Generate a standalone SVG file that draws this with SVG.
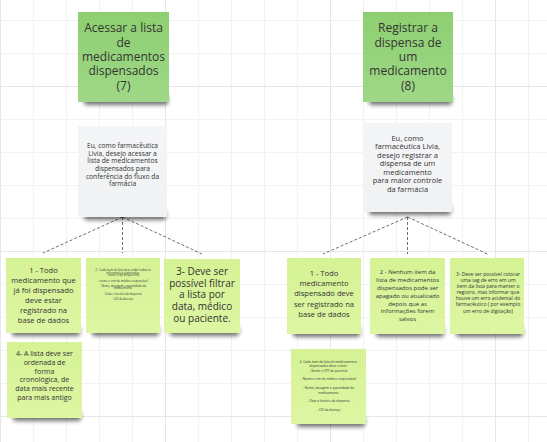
<svg xmlns="http://www.w3.org/2000/svg" width="547" height="442" viewBox="0 0 547 442">
<defs>
<linearGradient id="gTop" x1="0" y1="0" x2="0" y2="1"><stop offset="0" stop-color="#8dcf70"/><stop offset="1" stop-color="#9fd888"/></linearGradient>
<linearGradient id="gLight" x1="0" y1="0" x2="0" y2="1"><stop offset="0" stop-color="#d5f294"/><stop offset="1" stop-color="#ddf6a3"/></linearGradient>
<linearGradient id="gWhite" x1="0" y1="0" x2="0" y2="1"><stop offset="0" stop-color="#f4f5f6"/><stop offset="1" stop-color="#f1f2f3"/></linearGradient>
<filter id="blur" x="-20%" y="-50%" width="140%" height="200%"><feGaussianBlur stdDeviation="2.2"/></filter>
<style>
.minor{stroke:#f2f2f2;stroke-width:1;fill:none}
.major{stroke:#e6e6e6;stroke-width:1;fill:none}
.shadow{fill:#000;opacity:.55;filter:url(#blur)}
.top{fill:url(#gTop)}
.light{fill:url(#gLight)}
.white{fill:url(#gWhite)}
text{font-family:"Open Sans","Noto Sans","DejaVu Sans",sans-serif;fill:#333;text-anchor:middle}
.conn{stroke:#6e6e6e;stroke-width:1;stroke-dasharray:3 2;fill:none}
</style>
</defs>
<rect width="547" height="442" fill="#ffffff"/>
<g id="grid">
<path class="minor" d="M33.5 0V442M66.5 0V442M99.5 0V442M132.5 0V442M198.5 0V442M231.5 0V442M264.5 0V442M297.5 0V442M363.5 0V442M396.5 0V442M429.5 0V442M462.5 0V442M528.5 0V442M0 20.5H547M0 53.5H547M0 119.5H547M0 152.5H547M0 185.5H547M0 218.5H547M0 284.5H547M0 317.5H547M0 350.5H547M0 383.5H547"/>
<path class="major" d="M0.5 0V442M165.5 0V442M330.5 0V442M495.5 0V442M0 86.5H547M0 251.5H547M0 416.5H547"/>
</g>
<g id="connectors">
<path class="conn" d="M122.5 217L43 253M122.5 217V253M122.5 217L202 254"/>
<path class="conn" d="M407.5 217L323 254M407.5 217V254M407.5 217L487.5 254"/>
</g>
<g id="n7">
<rect class="shadow" x="84" y="95" width="84" height="10" rx="3"/>
<rect class="top" x="78" y="12" width="91" height="90"/>
<text font-size="12"><tspan x="123.5" y="32.3">Acessar a lista</tspan><tspan x="123.5" y="46.7">de</tspan><tspan x="123.5" y="61">medicamentos</tspan><tspan x="123.5" y="75.3">dispensados</tspan><tspan x="123.5" y="89.7">(7)</tspan></text>
</g>
<g id="n8">
<rect class="shadow" x="369" y="95" width="83" height="10" rx="3"/>
<rect class="top" x="363" y="12" width="90" height="90"/>
<text font-size="12"><tspan x="408" y="32.3">Registrar a</tspan><tspan x="408" y="46.7">dispensa de</tspan><tspan x="408" y="61">um</tspan><tspan x="408" y="75.3">medicamento</tspan><tspan x="408" y="89.7">(8)</tspan></text>
</g>
<g id="w7">
<rect class="shadow" x="84" y="210" width="82" height="10" rx="3"/>
<rect class="white" x="78" y="126" width="89" height="91"/>
<text font-size="6.7"><tspan x="122.5" y="148.2">Eu, como farmacêutica</tspan><tspan x="122.5" y="155.8">Livia, desejo acessar a</tspan><tspan x="122.5" y="163.4">lista de medicamentos</tspan><tspan x="122.5" y="171">dispensados para</tspan><tspan x="122.5" y="178.6">conferência do fluxo da</tspan><tspan x="122.5" y="186.2">farmácia</tspan></text>
</g>
<g id="w8">
<rect class="shadow" x="369" y="205" width="82" height="10" rx="3"/>
<rect class="white" x="363" y="123" width="89" height="89"/>
<text font-size="7.5"><tspan x="407.5" y="140.8">Eu, como</tspan><tspan x="407.5" y="149.25">farmacêutica Livia,</tspan><tspan x="407.5" y="157.7">desejo registrar a</tspan><tspan x="407.5" y="166.15">dispensa de um</tspan><tspan x="407.5" y="174.6">medicamento</tspan><tspan x="407.5" y="183.05">para maior controle</tspan><tspan x="407.5" y="191.5">da farmácia</tspan></text>
</g>
<g id="l1">
<rect class="shadow" x="12" y="326" width="68" height="10" rx="3"/>
<rect class="light" x="6" y="258" width="75" height="75"/>
<text font-size="7.6"><tspan x="43.5" y="272.5">1 - Todo</tspan><tspan x="43.5" y="282.5">medicamento que</tspan><tspan x="43.5" y="292.5">já foi dispensado</tspan><tspan x="43.5" y="302.5">deve estar</tspan><tspan x="43.5" y="312.5">registrado na</tspan><tspan x="43.5" y="322.5">base de dados</tspan></text>
</g>
<g id="l2">
<rect class="shadow" x="92" y="326" width="67" height="10" rx="3"/>
<rect class="light" x="86" y="258" width="74" height="75"/>
<text font-size="2.9"><tspan x="123" y="271">2 - Cada item da lista deve exibir todas as</tspan><tspan x="123" y="273.64">informações registradas:</tspan><tspan x="123" y="276.28">- nome e cpf do paciente</tspan><tspan x="123" y="281.56">- nome e crm do médico responsável</tspan><tspan x="123" y="286.84">- Nome, dosagem e quantidade do</tspan><tspan x="123" y="289.48">medicamento</tspan><tspan x="123" y="294.76">-Data e horário da dispensa</tspan><tspan x="123" y="300.04">-CID da doença</tspan></text>
</g>
<g id="l3">
<rect class="shadow" x="170" y="326" width="69" height="10" rx="3"/>
<rect class="light" x="164" y="259" width="76" height="74"/>
<text font-size="10"><tspan x="202" y="275">3- Deve ser</tspan><tspan x="202" y="286.65">possível filtrar</tspan><tspan x="202" y="298.3">a lista por</tspan><tspan x="202" y="309.95">data, médico</tspan><tspan x="202" y="321.6">ou paciente.</tspan></text>
</g>
<g id="l4">
<rect class="shadow" x="13" y="411" width="68" height="10" rx="3"/>
<rect class="light" x="7" y="342" width="75" height="76"/>
<text font-size="7"><tspan x="44.5" y="356.3">4- A lista deve ser</tspan><tspan x="44.5" y="365">ordenada de</tspan><tspan x="44.5" y="373.7">forma</tspan><tspan x="44.5" y="382.4">cronológica, de</tspan><tspan x="44.5" y="391.1">data mais recente</tspan><tspan x="44.5" y="399.8">para mais antigo</tspan></text>
</g>
<g id="r1">
<rect class="shadow" x="293" y="327" width="67" height="10" rx="3"/>
<rect class="light" x="287" y="258" width="74" height="76"/>
<text font-size="7.6"><tspan x="324" y="275.8">1 - Todo</tspan><tspan x="324" y="286.05">medicamento</tspan><tspan x="324" y="296.3">dispensado deve</tspan><tspan x="324" y="306.55">ser registrado na</tspan><tspan x="324" y="316.8">base de dados</tspan></text>
</g>
<g id="r2">
<rect class="shadow" x="376" y="327" width="68" height="10" rx="3"/>
<rect class="light" x="370" y="258" width="75" height="76"/>
<text font-size="6"><tspan x="407.5" y="273.7">2 - Nenhum item da</tspan><tspan x="407.5" y="281.65">lista de medicamentos</tspan><tspan x="407.5" y="289.6">dispensados pode ser</tspan><tspan x="407.5" y="297.55">apagado ou atualizado</tspan><tspan x="407.5" y="305.5">depois que as</tspan><tspan x="407.5" y="313.45">informações forem</tspan><tspan x="407.5" y="321.4">salvos</tspan></text>
</g>
<g id="r3">
<rect class="shadow" x="456" y="327" width="67" height="10" rx="3"/>
<rect class="light" x="450" y="258" width="74" height="76"/>
<text font-size="5"><tspan x="488" y="275.95">3- Deve ser possível colocar</tspan><tspan x="488" y="282.05">uma tag de erro em um</tspan><tspan x="488" y="288.15">item da lista para manter o</tspan><tspan x="488" y="294.25">registro, mas informar que</tspan><tspan x="488" y="300.35">houve um erro acidental do</tspan><tspan x="488" y="306.45">farmacêutico ( por exemplo</tspan><tspan x="488" y="312.55">um erro de digitação)</tspan></text>
</g>
<g id="r4">
<rect class="shadow" x="297" y="417" width="68" height="10" rx="3"/>
<rect class="light" x="291" y="349" width="75" height="75"/>
<text font-size="3.2"><tspan x="328.5" y="362.8">4. Cada item da lista de medicamentos</tspan><tspan x="328.5" y="367.2">dispensados deve conter:</tspan><tspan x="328.5" y="371.6">- Nome e CPF do paciente</tspan><tspan x="328.5" y="380.4">- Nome e crm do médico responsável</tspan><tspan x="328.5" y="389.2">- Nome, dosagem e quantidade do</tspan><tspan x="328.5" y="393.6">medicamento</tspan><tspan x="328.5" y="402.4">- Data e horário da dispensa</tspan><tspan x="328.5" y="411.2">- CID da doença</tspan></text>
</g>
</svg>
